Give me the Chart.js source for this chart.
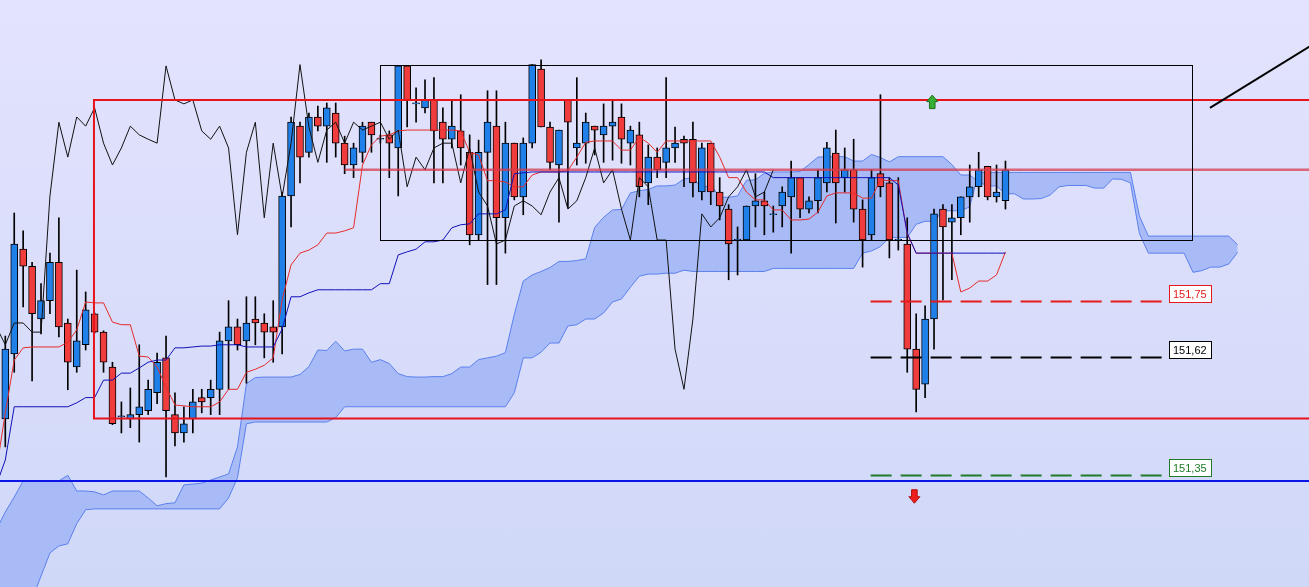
<!DOCTYPE html>
<html>
<head>
<meta charset="utf-8">
<title>Ichimoku chart</title>
<script src="https://cdn.jsdelivr.net/npm/chart.js@4.4.1/dist/chart.umd.min.js"></script>
<style>
  html, body { margin: 0; padding: 0; overflow: hidden; }
  body { width: 1309px; height: 587px; background: linear-gradient(180deg, #e3e3fd 0%, #d0d8f8 100%); }
  canvas { display: block; }
</style>
</head>
<body>
<canvas id="priceChart" width="1309" height="587"></canvas>
<script>
// /////////////// candles, one per bar (bar 0 .. 112)
const open = [
  151.479,151.628,151.868,151.829,151.708,151.750,151.838,151.699,151.598,151.649,
  151.720,151.678,151.598,151.484,151.479,151.489,151.498,151.539,151.619,151.489,
  151.447,151.479,151.528,151.528,151.547,151.658,151.690,151.658,151.708,151.699,
  151.690,151.690,151.990,152.150,152.090,152.171,152.150,152.180,152.111,152.061,
  152.090,152.159,152.120,152.130,152.100,152.288,152.201,152.192,152.210,152.159,
  152.120,152.139,152.090,151.901,152.090,152.150,151.940,152.111,151.988,152.111,
  152.281,152.148,152.061,152.210,152.100,152.111,152.150,152.130,152.150,152.171,
  152.111,152.130,152.020,152.079,152.067,152.100,152.120,152.120,151.999,152.111,
  151.999,151.960,151.889,151.889,151.967,151.979,151.947,151.967,151.988,152.032,
  151.960,151.979,152.020,152.088,152.032,152.050,151.960,151.901,152.041,152.020,
  151.889,151.880,151.639,151.559,151.708,151.960,151.930,151.940,151.988,152.011,
  152.058,151.988,151.979
];
const high = [
  151.669,151.951,151.910,151.838,151.789,151.859,151.940,151.708,151.820,151.770,
  151.722,151.681,151.609,151.518,151.550,151.649,151.568,151.630,151.669,151.539,
  151.507,151.547,151.547,151.568,151.678,151.750,151.708,151.759,151.759,151.720,
  151.750,151.999,152.171,152.159,152.180,152.196,152.203,152.203,152.127,152.111,
  152.159,152.159,152.130,152.139,152.288,152.288,152.238,152.256,152.261,152.192,
  152.210,152.222,152.130,152.118,152.231,152.231,152.159,152.111,152.123,152.291,
  152.302,152.159,152.141,152.210,152.261,152.180,152.150,152.201,152.210,152.201,
  152.150,152.159,152.107,152.100,152.261,152.148,152.127,152.159,152.111,152.111,
  152.032,151.970,151.919,151.967,152.041,151.999,151.967,152.011,152.070,152.032,
  151.988,152.050,152.113,152.141,152.100,152.120,151.981,152.050,152.222,152.032,
  152.032,151.940,151.720,151.738,151.960,151.970,151.970,151.988,152.061,152.090,
  152.058,152.061,152.070
];
const low = [
  151.415,151.586,151.736,151.566,151.674,151.720,151.667,151.546,151.586,151.637,
  151.676,151.586,151.466,151.447,151.459,151.426,151.489,151.514,151.346,151.417,
  151.426,151.447,151.493,151.489,151.489,151.547,151.637,151.561,151.649,151.619,
  151.609,151.628,151.919,152.020,152.079,152.139,152.067,152.079,152.041,152.032,
  152.067,152.090,152.111,152.032,151.990,152.148,152.159,152.180,152.020,152.020,
  152.100,152.061,151.878,151.889,151.787,151.787,151.859,151.981,151.947,152.100,
  152.148,152.050,151.930,151.963,152.061,152.065,152.084,152.067,152.072,152.065,
  152.061,151.988,151.970,152.032,152.032,152.067,152.011,151.988,151.981,151.970,
  151.935,151.798,151.809,151.889,151.919,151.901,151.907,151.919,151.859,151.940,
  151.951,151.951,151.999,151.928,151.999,151.930,151.827,151.889,151.988,151.848,
  151.866,151.586,151.495,151.528,151.639,151.752,151.798,151.901,151.930,151.988,
  151.981,151.976,151.960
];
const close = [
  151.639,151.880,151.829,151.720,151.750,151.838,151.690,151.609,151.658,151.729,
  151.678,151.609,151.468,151.484,151.489,151.507,151.547,151.609,151.498,151.447,
  151.468,151.518,151.518,151.547,151.658,151.690,151.649,151.699,151.699,151.678,
  151.678,151.990,152.159,152.079,152.171,152.150,152.192,152.111,152.061,152.100,
  152.150,152.130,152.120,152.111,152.288,152.210,152.201,152.210,152.139,152.120,
  152.150,152.100,151.901,152.090,152.159,151.940,152.111,151.988,152.111,152.291,
  152.148,152.067,152.141,152.159,152.111,152.159,152.141,152.150,152.159,152.120,
  152.141,152.011,152.079,152.050,152.100,152.111,152.111,152.020,152.100,151.999,
  151.967,151.880,151.889,151.967,151.979,151.967,151.947,151.999,152.032,151.960,
  151.979,152.032,152.100,152.020,152.050,151.960,151.889,152.032,152.011,151.889,
  151.889,151.639,151.547,151.708,151.949,151.919,151.940,151.988,152.011,152.050,
  151.988,151.999,152.050
];

// /////////////// ichimoku lines, these start one bar before the first candle (bar -1)
const lineStart = -1;
const tenkan = [
  151.362,
  151.493,151.614,151.642,151.644,151.644,151.644,151.644,151.655,151.683,151.747,
  151.745,151.745,151.701,151.695,151.695,151.623,151.621,151.598,151.552,151.511,
  151.509,151.507,151.507,151.507,151.518,151.547,151.547,151.586,151.593,151.602,
  151.619,151.752,151.832,151.859,151.866,151.878,151.905,151.905,151.910,151.917,
  152.061,152.107,152.127,152.130,152.139,152.141,152.141,152.141,152.141,152.141,
  152.141,152.139,152.090,152.084,152.025,152.025,152.022,152.011,152.011,152.038,
  152.045,152.045,152.045,152.048,152.079,152.113,152.116,152.116,152.116,152.095,
  152.095,152.125,152.111,152.090,152.116,152.116,152.116,152.116,152.116,152.116,
  152.079,152.032,152.032,151.999,151.981,151.981,151.958,151.958,151.935,151.935,
  151.937,151.953,151.990,151.997,151.997,151.997,151.985,151.985,152.027,152.025,
  152.025,151.903,151.859,151.859,151.859,151.859,151.859,151.770,151.779,151.795,
  151.795,151.809,151.862
];
const kijun = [
  151.328,
  151.385,151.507,151.507,151.507,151.507,151.507,151.507,151.507,151.516,151.528,
  151.528,151.568,151.568,151.584,151.584,151.596,151.609,151.614,151.614,151.642,
  151.642,151.644,151.646,151.646,151.649,151.649,151.649,151.644,151.644,151.644,
  151.644,151.685,151.759,151.759,151.768,151.775,151.775,151.775,151.775,151.775,
  151.775,151.775,151.789,151.789,151.855,151.862,151.868,151.885,151.885,151.889,
  151.917,151.924,151.926,151.949,151.949,151.949,151.958,152.041,152.043,152.045,
  152.045,152.045,152.045,152.045,152.045,152.045,152.045,152.045,152.045,152.045,
  152.045,152.045,152.045,152.045,152.045,152.045,152.045,152.045,152.045,152.045,
  152.045,152.045,152.045,152.045,152.045,152.045,152.032,152.032,152.032,152.032,
  152.032,152.032,152.032,152.032,152.032,152.032,152.032,152.032,152.032,152.032,
  152.015,151.905,151.859,151.859,151.859,151.859,151.859,151.859,151.859,151.859,
  151.859,151.859,151.859
];
// cloud runs 26 bars past the last candle
const spanA = [
  151.225,
  151.266,151.300,151.337,151.337,151.337,151.337,151.337,151.350,151.314,151.314,
  151.312,151.305,151.314,151.314,151.314,151.314,151.298,151.280,151.285,151.287,
  151.328,151.330,151.332,151.339,151.346,151.353,151.415,151.560,151.574,151.575,
  151.575,151.575,151.575,151.581,151.599,151.637,151.636,151.657,151.635,151.639,
  151.639,151.609,151.615,151.606,151.583,151.576,151.575,151.575,151.576,151.576,
  151.583,151.598,151.598,151.615,151.619,151.623,151.631,151.719,151.795,151.809,
  151.817,151.826,151.840,151.840,151.842,151.846,151.918,151.941,151.958,151.959,
  151.997,152.002,152.005,152.013,152.013,152.015,152.029,152.032,152.008,152.016,
  151.987,151.987,151.990,152.026,152.027,152.042,152.045,152.045,152.045,152.046,
  152.062,152.079,152.080,152.080,152.080,152.070,152.070,152.085,152.078,152.068,
  152.080,152.080,152.080,152.080,152.080,152.080,152.062,152.038,152.038,152.022,
  152.013,152.013,151.995,151.995,151.983,151.983,151.984,151.992,152.011,152.014,
  152.014,152.014,152.008,152.008,152.029,152.028,152.020,151.904,151.859,151.859,
  151.859,151.859,151.859,151.815,151.819,151.827,151.827,151.834,151.861
];
const spanB = [
  150.858,
  150.913,150.964,151.017,151.066,151.119,151.172,151.188,151.193,151.239,151.271,
  151.273,151.273,151.273,151.273,151.273,151.273,151.273,151.273,151.273,151.273,
  151.273,151.273,151.273,151.273,151.273,151.298,151.344,151.468,151.472,151.472,
  151.472,151.472,151.472,151.472,151.472,151.472,151.472,151.482,151.507,151.507,
  151.507,151.507,151.507,151.507,151.507,151.507,151.507,151.507,151.507,151.507,
  151.507,151.507,151.507,151.507,151.507,151.507,151.507,151.539,151.619,151.619,
  151.632,151.653,151.653,151.692,151.695,151.708,151.708,151.722,151.747,151.754,
  151.781,151.806,151.811,151.811,151.813,151.813,151.820,151.817,151.817,151.817,
  151.817,151.817,151.817,151.817,151.817,151.817,151.824,151.824,151.824,151.824,
  151.824,151.824,151.824,151.824,151.824,151.824,151.859,151.864,151.874,151.895,
  151.895,151.895,151.925,151.932,151.932,151.956,151.956,151.956,151.965,152.044,
  152.044,152.044,152.044,152.044,152.044,152.044,152.044,152.044,152.044,152.044,
  152.044,152.044,152.044,152.044,152.044,152.044,152.044,151.944,151.898,151.898,
  151.898,151.898,151.898,151.898,151.898,151.898,151.898,151.898,151.878
];
const chikouShift = 26;

// /////////////// drawn objects (bar index / price)
const levels = [151.75, 151.62, 151.35];
const levelLabels = ['151,75', '151,62', '151,35'];
const redBox = { left: 9.93, top: 152.210, bottom: 151.480 };
const midLine = { from: 38, price: 152.050 };
const blackBox = { left: 41.96, right: 132.9, top: 152.290, bottom: 151.889 };
const supportLine = 151.337;
const trendLine = [{ x: 134.9, y: 152.192 }, { x: 147.2, y: 152.347 }];
const dashRange = [96.9, 129.5];
const labelRange = [130.3, 135.0];
const upArrow = { x: 103.8, y: 152.205 };
const downArrow = { x: 101.8, y: 151.302 };

const RED = '#f03c3c', BLUE = '#2080ea';

const bodies = open.map((o, i) => ({ x: i, y: [o, close[i]] }));
const wicks = open.map((o, i) => ({ x: i, y: [low[i], high[i]] }));
const bodyColors = open.map((o, i) => close[i] >= o ? BLUE : RED);
const pts = arr => arr.map((v, i) => ({ x: i + lineStart, y: v }));
// lagging span: close plotted 26 bars back
const chikou = close.slice(chikouShift + lineStart).map((v, i) => ({ x: i + lineStart, y: v }));

// /////////////// lines, boxes, labels on top
const drawObjects = {
  id: 'drawObjects',
  afterDatasetsDraw(chart) {
    const ctx = chart.ctx;
    const xs = chart.scales.x, ys = chart.scales.y;
    const px = v => xs.getPixelForValue(v);
    const py = v => ys.getPixelForValue(v);
    const W = chart.width;
    ctx.save();

    // salmon level line
    ctx.strokeStyle = 'rgba(214,60,78,0.75)';
    ctx.lineWidth = 2.5;
    ctx.beginPath();
    ctx.moveTo(px(midLine.from), py(midLine.price));
    ctx.lineTo(W + 5, py(midLine.price));
    ctx.stroke();

    // red range box, open on the right
    ctx.strokeStyle = '#e8141c';
    ctx.lineWidth = 2;
    ctx.beginPath();
    ctx.moveTo(W + 5, py(redBox.top));
    ctx.lineTo(px(redBox.left), py(redBox.top));
    ctx.lineTo(px(redBox.left), py(redBox.bottom));
    ctx.lineTo(W + 5, py(redBox.bottom));
    ctx.stroke();

    // black box
    ctx.strokeStyle = '#000';
    ctx.lineWidth = 1;
    const bx = Math.round(px(blackBox.left)) + 0.5, by = Math.round(py(blackBox.top)) + 0.5;
    ctx.strokeRect(bx, by, Math.round(px(blackBox.right) - px(blackBox.left)), Math.round(py(blackBox.bottom) - py(blackBox.top)));

    // blue support line
    ctx.strokeStyle = '#0a14e6';
    ctx.lineWidth = 2;
    ctx.beginPath();
    ctx.moveTo(0, py(supportLine));
    ctx.lineTo(W, py(supportLine));
    ctx.stroke();

    // trend line
    ctx.strokeStyle = '#000';
    ctx.lineWidth = 2;
    ctx.beginPath();
    ctx.moveTo(px(trendLine[0].x), py(trendLine[0].y));
    ctx.lineTo(px(trendLine[1].x), py(trendLine[1].y));
    ctx.stroke();

    // dashed target levels + price tags
    const colors = ['#e51a1a', '#000000', '#1f7a2a'];
    ctx.font = '11px "Liberation Sans", Arial, sans-serif';
    levels.forEach((lv, k) => {
      const y = Math.round(py(lv)) + 0.5;
      ctx.strokeStyle = colors[k];
      ctx.lineWidth = 2;
      ctx.setLineDash([21, 9]);
      ctx.beginPath();
      ctx.moveTo(px(dashRange[0]), y);
      ctx.lineTo(px(dashRange[1]), y);
      ctx.stroke();
      ctx.setLineDash([]);

      const l = Math.round(px(labelRange[0])) + 0.5, r = Math.round(px(labelRange[1])) + 0.5;
      ctx.fillStyle = '#fff';
      ctx.fillRect(l, y - 16, r - l, 17);
      ctx.lineWidth = 1;
      ctx.strokeRect(l, y - 16, r - l, 17);
      ctx.fillStyle = colors[k];
      ctx.textBaseline = 'alphabetic';
      ctx.fillText(levelLabels[k], l + 3.5, y - 3.5);
    });

    // arrows
    const arrow = (a, dir, fill, edge) => {
      const cx = px(a.x), cy = py(a.y);
      ctx.beginPath();
      ctx.moveTo(cx, cy - 7 * dir);
      ctx.lineTo(cx + 5.5, cy - 0.5 * dir);
      ctx.lineTo(cx + 2.8, cy - 0.5 * dir);
      ctx.lineTo(cx + 2.8, cy + 6.5 * dir);
      ctx.lineTo(cx - 2.8, cy + 6.5 * dir);
      ctx.lineTo(cx - 2.8, cy - 0.5 * dir);
      ctx.lineTo(cx - 5.5, cy - 0.5 * dir);
      ctx.closePath();
      ctx.fillStyle = fill;
      ctx.fill();
      ctx.strokeStyle = edge;
      ctx.lineWidth = 1;
      ctx.stroke();
    };
    arrow(upArrow, 1, '#35b035', '#1c6e1c');
    arrow(downArrow, -1, '#ee1c1c', '#b01010');

    ctx.restore();
  }
};

const ctx = document.getElementById('priceChart').getContext('2d');
const priceChart = new Chart(ctx, {
  type: 'bar',
  data: {
    datasets: [
      { type: 'line', label: 'Senkou A', data: pts(spanA), borderColor: '#5a80ec', borderWidth: 1,
        pointRadius: 0, tension: 0, fill: false, order: 10 },
      { type: 'line', label: 'Senkou B', data: pts(spanB), borderColor: '#5a80ec', borderWidth: 1,
        pointRadius: 0, tension: 0, fill: '-1', backgroundColor: '#a9bbf7', order: 10 },
      { type: 'bar', label: 'Wick', data: wicks, backgroundColor: '#000', barThickness: 1,
        grouped: false, order: 4 },
      { type: 'bar', label: 'Body', data: bodies, backgroundColor: bodyColors, borderColor: '#000',
        borderWidth: 1, borderSkipped: false, barThickness: 7, minBarLength: 1, grouped: false, order: 3 },
      { type: 'line', label: 'Kijun', data: pts(kijun), borderColor: '#1010b8', borderWidth: 1,
        pointRadius: 0, tension: 0, fill: false, order: 2 },
      { type: 'line', label: 'Tenkan', data: pts(tenkan), borderColor: '#e62a2a', borderWidth: 1,
        pointRadius: 0, tension: 0, fill: false, order: 2 },
      { type: 'line', label: 'Chikou', data: chikou, borderColor: '#111', borderWidth: 1,
        pointRadius: 0, tension: 0, fill: false, order: 1 }
    ]
  },
  options: {
    responsive: false,
    animation: false,
    layout: { padding: 0 },
    plugins: { legend: { display: false }, tooltip: { enabled: false } },
    scales: {
      x: { type: 'linear', min: -0.5935, max: 145.99, offset: false, display: false },
      y: { type: 'linear', min: 151.094, max: 152.439, beginAtZero: false, display: false }
    }
  },
  plugins: [drawObjects]
});
</script>
</body>
</html>
